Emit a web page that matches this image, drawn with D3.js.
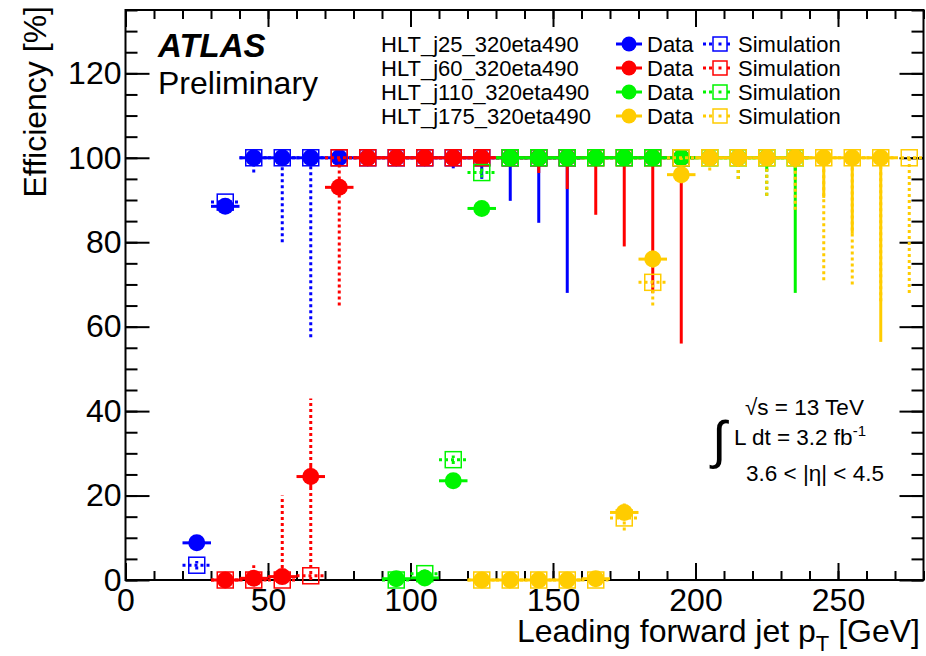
<!DOCTYPE html>
<html>
<head>
<meta charset="utf-8">
<title>Forward jet trigger efficiency</title>
<style>
  body { margin: 0; padding: 0; background: #fff; }
  svg text { font-family: "Liberation Sans", Arial, Helvetica, sans-serif; fill: #000; }
</style>
</head>
<body>
<div id="my_dataviz"></div>

<script src="https://d3js.org/d3.v7.min.js"></script>
<script>

// ---- data (bin centres in GeV, efficiency in %) ----
var triggerNames = ["HLT_j25_320eta490", "HLT_j60_320eta490", "HLT_j110_320eta490", "HLT_j175_320eta490"];
var triggerColors = ["#0000ff", "#ff0000", "#00f500", "#ffcc00"];

// HLT_j25
var j25X       = [25, 35, 45, 55, 65, 75, 85, 95, 105, 115, 125, 135, 145, 155];
var j25Data    = [8.8, 88.5, 100, 100, 100, 100, 100, 100, 100, 100, 100, 100, 100, 100];
var j25DataLo  = [0.8, 1.2, 0.3, 0.3, 0.3, 0.3, 0.3, 0.3, 0.5, 2.5, 5, 10.2, 15.4, 32];
var j25DataHi  = [0.8, 1.2, 0, 0, 0, 0, 0, 0, 0, 0, 0, 0, 0, 0];
var j25Sim     = [3.5, 89.5, 100, 100, 100, 100, 100, 100, 100, 100, 100, 100, 100, 100];
var j25SimLo   = [1, 1.2, 3.5, 20, 42.5, 0.5, 0.5, 0.5, 0.5, 0.5, 0.5, 0.5, 0.5, 0.5];
var j25SimHi   = [1, 1.2, 0, 0, 0, 0, 0, 0, 0, 0, 0, 0, 0, 0];

// HLT_j60
var j60X       = [35, 45, 55, 65, 75, 85, 95, 105, 115, 125, 135, 145, 155, 165, 175, 185, 195];
var j60Data    = [0, 0.4, 0.8, 24.5, 93, 100, 100, 100, 100, 100, 100, 100, 100, 100, 100, 100, 100];
var j60DataLo  = [0, 0.3, 0.5, 2.5, 1.5, 0.3, 0.3, 0.3, 0.3, 0.5, 1, 3.6, 7.4, 13.5, 21, 32, 44];
var j60DataHi  = [0.3, 0.5, 0.8, 2.5, 1.5, 0, 0, 0, 0, 0, 0, 0, 0, 0, 0, 0, 0];
var j60Sim     = [0, 0, 0, 1, 100, 100, 100, 100, 100, 100, 100, 100, 100, 100, 100, 100, 100];
var j60SimLo   = [0, 0, 0, 1, 35, 0.5, 0.5, 0.5, 0.5, 0.5, 0.5, 0.5, 0.5, 0.5, 0.5, 0.5, 0.5];
var j60SimHi   = [0.5, 3.5, 20, 42, 0, 0, 0, 0, 0, 0, 0, 0, 0, 0, 0, 0, 0];

// HLT_j110
var j110X      = [95, 105, 115, 125, 135, 145, 155, 165, 175, 185, 195, 205, 215, 225, 235];
var j110Data   = [0.3, 0.5, 23.5, 88, 100, 100, 100, 100, 100, 100, 100, 100, 100, 100, 100];
var j110DataLo = [0.3, 0.5, 1, 1.5, 0.3, 0.3, 0.3, 0.3, 0.3, 0.3, 0.3, 0.5, 2, 3, 32];
var j110DataHi = [0.5, 0.5, 1, 1.5, 0, 0, 0, 0, 0, 0, 0, 0, 0, 0, 0];
var j110Sim    = [0, 1.5, 28.5, 96.5, 100, 100, 100, 100, 100, 100, 100, 100, 100, 100, 100];
var j110SimLo  = [0, 1, 1, 1.2, 0.5, 0.5, 0.5, 0.5, 0.5, 0.5, 0.5, 1, 5, 9, 3];
var j110SimHi  = [0.5, 1, 1, 1.2, 0, 0, 0, 0, 0, 0, 0, 0, 0, 0, 0];

// HLT_j175 (no data point in the last bin)
var j175X      = [125, 135, 145, 155, 165, 175, 185, 195, 205, 215, 225, 235, 245, 255, 265, 275];
var j175Data   = [0, 0, 0, 0, 0.3, 16, 76, 96, 100, 100, 100, 100, 100, 100, 100, null];
var j175DataLo = [0, 0, 0, 0, 0.3, 1.5, 2, 2, 0.3, 0.5, 1, 1.5, 9.5, 18, 43.6, 0];
var j175DataHi = [0.3, 0.3, 0.3, 0.3, 0.5, 1.5, 2, 2, 0, 0, 0, 0, 0, 0, 0, 0];
var j175Sim    = [0, 0, 0, 0, 0, 14.7, 70.5, 100, 100, 100, 100, 100, 100, 100, 100, 100];
var j175SimLo  = [0, 0, 0, 0, 0, 3, 5.5, 0.5, 3, 5, 9, 12.3, 29, 30, 34, 32];
var j175SimHi  = [0, 0, 0, 0, 0.5, 3.8, 0.5, 0, 0, 0, 0, 0, 0, 0, 0, 0];

var xTicks = [0, 50, 100, 150, 200, 250];
var yTicks = [0, 20, 40, 60, 80, 100, 120];

var series = [
  {x: j25X,  data: j25Data,  dataLo: j25DataLo,  dataHi: j25DataHi,  sim: j25Sim,  simLo: j25SimLo,  simHi: j25SimHi},
  {x: j60X,  data: j60Data,  dataLo: j60DataLo,  dataHi: j60DataHi,  sim: j60Sim,  simLo: j60SimLo,  simHi: j60SimHi},
  {x: j110X, data: j110Data, dataLo: j110DataLo, dataHi: j110DataHi, sim: j110Sim, simLo: j110SimLo, simHi: j110SimHi},
  {x: j175X, data: j175Data, dataLo: j175DataLo, dataHi: j175DataHi, sim: j175Sim, simLo: j175SimLo, simHi: j175SimHi}
];
series.forEach(function(s, i) { s.name = triggerNames[i]; s.color = triggerColors[i]; });

// ---- frame ----
var width = 926, height = 656;
var frameL = 125.5, frameR = 923.5, frameT = 10, frameB = 580;
var halfBin = 5;

var svg = d3.select("#my_dataviz")
  .append("svg")
    .attr("width", width)
    .attr("height", height);

var x = d3.scaleLinear().domain([0, 280]).range([frameL, frameR]);
var y = d3.scaleLinear().domain([0, 135]).range([frameB, frameT]);

// axes: major + minor ticks on all four sides, pointing inward
function tidy(g) { g.select(".domain").remove(); g.selectAll("line").attr("stroke", "#000").attr("stroke-width", 2); }

svg.append("g")
  .attr("transform", "translate(0," + frameB + ")")
  .call(d3.axisBottom(x).tickValues(d3.range(0, 281, 10)).tickSize(-9).tickFormat(""))
  .call(tidy);
svg.append("g")
  .attr("transform", "translate(0," + frameB + ")")
  .call(d3.axisBottom(x).tickValues(xTicks).tickSize(-17).tickPadding(8).tickFormat(d3.format("d")))
  .call(tidy)
  .selectAll("text").style("font-size", "32px");
svg.append("g")
  .attr("transform", "translate(0," + frameT + ")")
  .call(d3.axisTop(x).tickValues(d3.range(0, 281, 10)).tickSize(-9).tickFormat(""))
  .call(tidy);
svg.append("g")
  .attr("transform", "translate(0," + frameT + ")")
  .call(d3.axisTop(x).tickValues(xTicks).tickSize(-17).tickFormat(""))
  .call(tidy);

svg.append("g")
  .attr("transform", "translate(" + frameL + ",0)")
  .call(d3.axisLeft(y).tickValues(d3.range(0, 136, 5)).tickSize(-12).tickFormat(""))
  .call(tidy);
svg.append("g")
  .attr("transform", "translate(" + frameL + ",0)")
  .call(d3.axisLeft(y).tickValues(yTicks).tickSize(-24).tickPadding(4).tickFormat(d3.format("d")))
  .call(tidy)
  .selectAll("text").style("font-size", "32px");
svg.append("g")
  .attr("transform", "translate(" + frameR + ",0)")
  .call(d3.axisRight(y).tickValues(d3.range(0, 136, 5)).tickSize(-12).tickFormat(""))
  .call(tidy);
svg.append("g")
  .attr("transform", "translate(" + frameR + ",0)")
  .call(d3.axisRight(y).tickValues(yTicks).tickSize(-24).tickFormat(""))
  .call(tidy);

svg.append("rect")
  .attr("x", frameL).attr("y", frameT)
  .attr("width", frameR - frameL).attr("height", frameB - frameT)
  .attr("fill", "none").attr("stroke", "#000").attr("stroke-width", 2);

// axis titles
var xt = svg.append("text")
  .attr("x", 920).attr("y", 642)
  .attr("text-anchor", "end")
  .style("font-size", "32px");
xt.append("tspan").text("Leading forward jet p");
xt.append("tspan").attr("dy", 9).style("font-size", "22px").text("T");
xt.append("tspan").attr("dy", -9).text(" [GeV]");

svg.append("text")
  .attr("transform", "translate(46,6) rotate(-90)")
  .attr("text-anchor", "end")
  .style("font-size", "32px")
  .text("Efficiency [%]");

// ---- points ----
var plot = svg.append("g");
var dotted = "3,3";

series.forEach(function(s) {
  var g = plot.append("g");
  var rows = s.x.map(function(c, i) {
    return {c: c, d: s.data[i], dLo: s.dataLo[i], dHi: s.dataHi[i], m: s.sim[i], mLo: s.simLo[i], mHi: s.simHi[i]};
  });
  var dataRows = rows.filter(function(r) { return r.d !== null; });

  // data error bars (solid)
  g.selectAll(null).data(dataRows).enter().append("line")
    .attr("x1", function(r) { return x(r.c - halfBin); })
    .attr("x2", function(r) { return x(r.c + halfBin); })
    .attr("y1", function(r) { return y(r.d); })
    .attr("y2", function(r) { return y(r.d); })
    .attr("stroke", s.color).attr("stroke-width", 3);
  g.selectAll(null).data(dataRows).enter().append("line")
    .attr("x1", function(r) { return x(r.c); })
    .attr("x2", function(r) { return x(r.c); })
    .attr("y1", function(r) { return y(r.d - r.dLo); })
    .attr("y2", function(r) { return y(r.d + r.dHi); })
    .attr("stroke", s.color).attr("stroke-width", 3);

  // simulation error bars (dotted)
  g.selectAll(null).data(rows).enter().append("line")
    .attr("x1", function(r) { return x(r.c - halfBin); })
    .attr("x2", function(r) { return x(r.c + halfBin); })
    .attr("y1", function(r) { return y(r.m); })
    .attr("y2", function(r) { return y(r.m); })
    .attr("stroke", s.color).attr("stroke-width", 3).attr("stroke-dasharray", dotted);
  g.selectAll(null).data(rows).enter().append("line")
    .attr("x1", function(r) { return x(r.c); })
    .attr("x2", function(r) { return x(r.c); })
    .attr("y1", function(r) { return y(r.m - r.mLo); })
    .attr("y2", function(r) { return y(r.m + r.mHi); })
    .attr("stroke", s.color).attr("stroke-width", 3).attr("stroke-dasharray", dotted);

  // markers
  g.selectAll(null).data(dataRows).enter().append("circle")
    .attr("cx", function(r) { return x(r.c); })
    .attr("cy", function(r) { return y(r.d); })
    .attr("r", 8.5)
    .attr("fill", s.color);
  g.selectAll(null).data(rows).enter().append("rect")
    .attr("x", function(r) { return x(r.c) - 8; })
    .attr("y", function(r) { return y(r.m) - 8; })
    .attr("width", 16).attr("height", 16)
    .attr("fill", "none")
    .attr("stroke", s.color).attr("stroke-width", 1.5);
});

// ---- labels ----
svg.append("text")
  .attr("x", 158).attr("y", 57)
  .style("font-size", "33px").style("font-weight", "bold").style("font-style", "italic")
  .text("ATLAS");
svg.append("text")
  .attr("x", 158).attr("y", 94)
  .style("font-size", "32px")
  .text("Preliminary");

// legend
var legend = svg.append("g");
series.forEach(function(s, i) {
  var base = 52 + i * 24, cy = base - 8;
  legend.append("text").attr("x", 381).attr("y", base).style("font-size", "22px").text(s.name);
  legend.append("line").attr("x1", 616).attr("x2", 642).attr("y1", cy).attr("y2", cy)
    .attr("stroke", s.color).attr("stroke-width", 3);
  legend.append("circle").attr("cx", 629).attr("cy", cy).attr("r", 7.5).attr("fill", s.color);
  legend.append("text").attr("x", 647).attr("y", base).style("font-size", "22px").text("Data");
  legend.append("line").attr("x1", 703).attr("x2", 733).attr("y1", cy).attr("y2", cy)
    .attr("stroke", s.color).attr("stroke-width", 3).attr("stroke-dasharray", dotted);
  legend.append("rect").attr("x", 713).attr("y", cy - 7).attr("width", 14).attr("height", 14)
    .attr("fill", "#fff").attr("stroke", s.color).attr("stroke-width", 1.5);
  legend.append("line").attr("x1", 720).attr("x2", 720).attr("y1", cy - 1.5).attr("y2", cy + 1.5)
    .attr("stroke", s.color).attr("stroke-width", 3);
  legend.append("text").attr("x", 738).attr("y", base).style("font-size", "22px").text("Simulation");
});

// energy / luminosity / eta range
svg.append("text").attr("x", 745).attr("y", 415).style("font-size", "22.5px").text("\u221As = 13 TeV");
svg.append("text").attr("x", 712).attr("y", 458).style("font-size", "52px").style("font-weight", "200").text("\u222B");
var lumi = svg.append("text").attr("x", 734).attr("y", 445).style("font-size", "22.5px");
lumi.append("tspan").text("L dt = 3.2 fb");
lumi.append("tspan").attr("dy", -9).style("font-size", "15px").text("-1");
svg.append("text").attr("x", 746).attr("y", 481).style("font-size", "22.5px").text("3.6 < |\u03B7| < 4.5");

</script>
</body>
</html>
